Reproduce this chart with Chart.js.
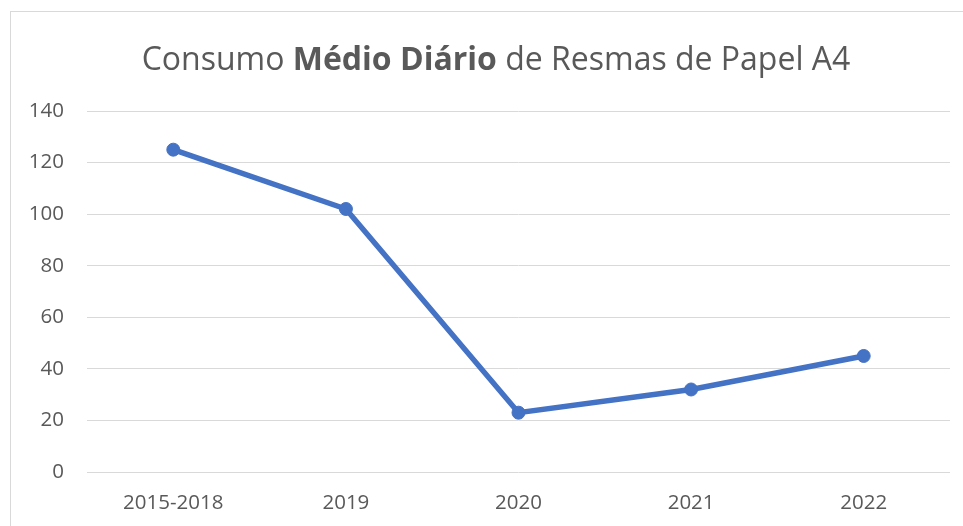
<!DOCTYPE html>
<html>
<head>
<meta charset="utf-8">
<script src="https://cdn.jsdelivr.net/npm/chart.js@4"></script>
<style>
  body { margin: 0; background: #fff; overflow: hidden; }
  #frame { position: absolute; left: 10px; top: 11px; width: 1000px; height: 600px; border: 1px solid #d9d9d9; }
  #titulo { position: absolute; left: 0; top: 36px; width: 992px; text-align: center;
            font-family: "Open Sans", sans-serif; color: #595959; white-space: nowrap; }
  #wrap { position: absolute; left: 0; top: 0; width: 963px; height: 526px; }
</style>
</head>
<body>
<div id="frame"></div>
<div id="wrap"><canvas id="consumoChart" width="963" height="526"></canvas></div>
<div id="titulo">Consumo <b>Médio Diário</b> de Resmas de Papel A4</div>
<script>
// dados
const periodos = ['2015-2018', '2019', '2020', '2021', '2022'];
const resmasDia = [125, 102, 23, 32, 45];
const yMin = 0, yMax = 140, yPasso = 20;

// ajusta o título para ocupar a mesma largura (~709px)
const titulo = document.getElementById('titulo');
const medida = document.createElement('span');
medida.innerHTML = titulo.innerHTML;
medida.style.cssText = 'position:absolute;visibility:hidden;white-space:nowrap;font-family:"Open Sans";font-size:30px';
document.body.appendChild(medida);
const larg = medida.getBoundingClientRect().width || 709;
medida.remove();
titulo.style.fontSize = (30 * 709 / larg).toFixed(2) + 'px';

const ctx = document.getElementById('consumoChart').getContext('2d');
new Chart(ctx, {
    type: 'line',
    data: {
        labels: periodos,
        datasets: [{
            data: resmasDia,
            borderColor: '#4472C4',
            backgroundColor: '#4472C4',
            borderWidth: 5.5,
            pointRadius: 6.5,
            pointBorderWidth: 1,
            pointHoverRadius: 6.5,
            tension: 0
        }]
    },
    options: {
        responsive: false,
        animation: false,
        layout: { padding: { left: 0, top: 111, right: 13, bottom: 0 } },
        plugins: { legend: { display: false }, tooltip: { enabled: false }, title: { display: false } },
        scales: {
            x: {
                offset: true,
                grid: { display: false, drawTicks: false },
                border: { display: false },
                ticks: { color: '#595959', font: { family: 'Open Sans', size: 20.5 }, padding: 19 },
                afterFit: s => { s.height = 54; }
            },
            y: {
                min: yMin, max: yMax,
                grid: { color: '#d9d9d9', lineWidth: 1, drawTicks: false },
                border: { display: false },
                ticks: { stepSize: yPasso, color: '#595959', font: { family: 'Open Sans', size: 20.5 }, padding: 23 },
                afterFit: s => { s.width = 87; }
            }
        }
    }
});
</script>
</body>
</html>
